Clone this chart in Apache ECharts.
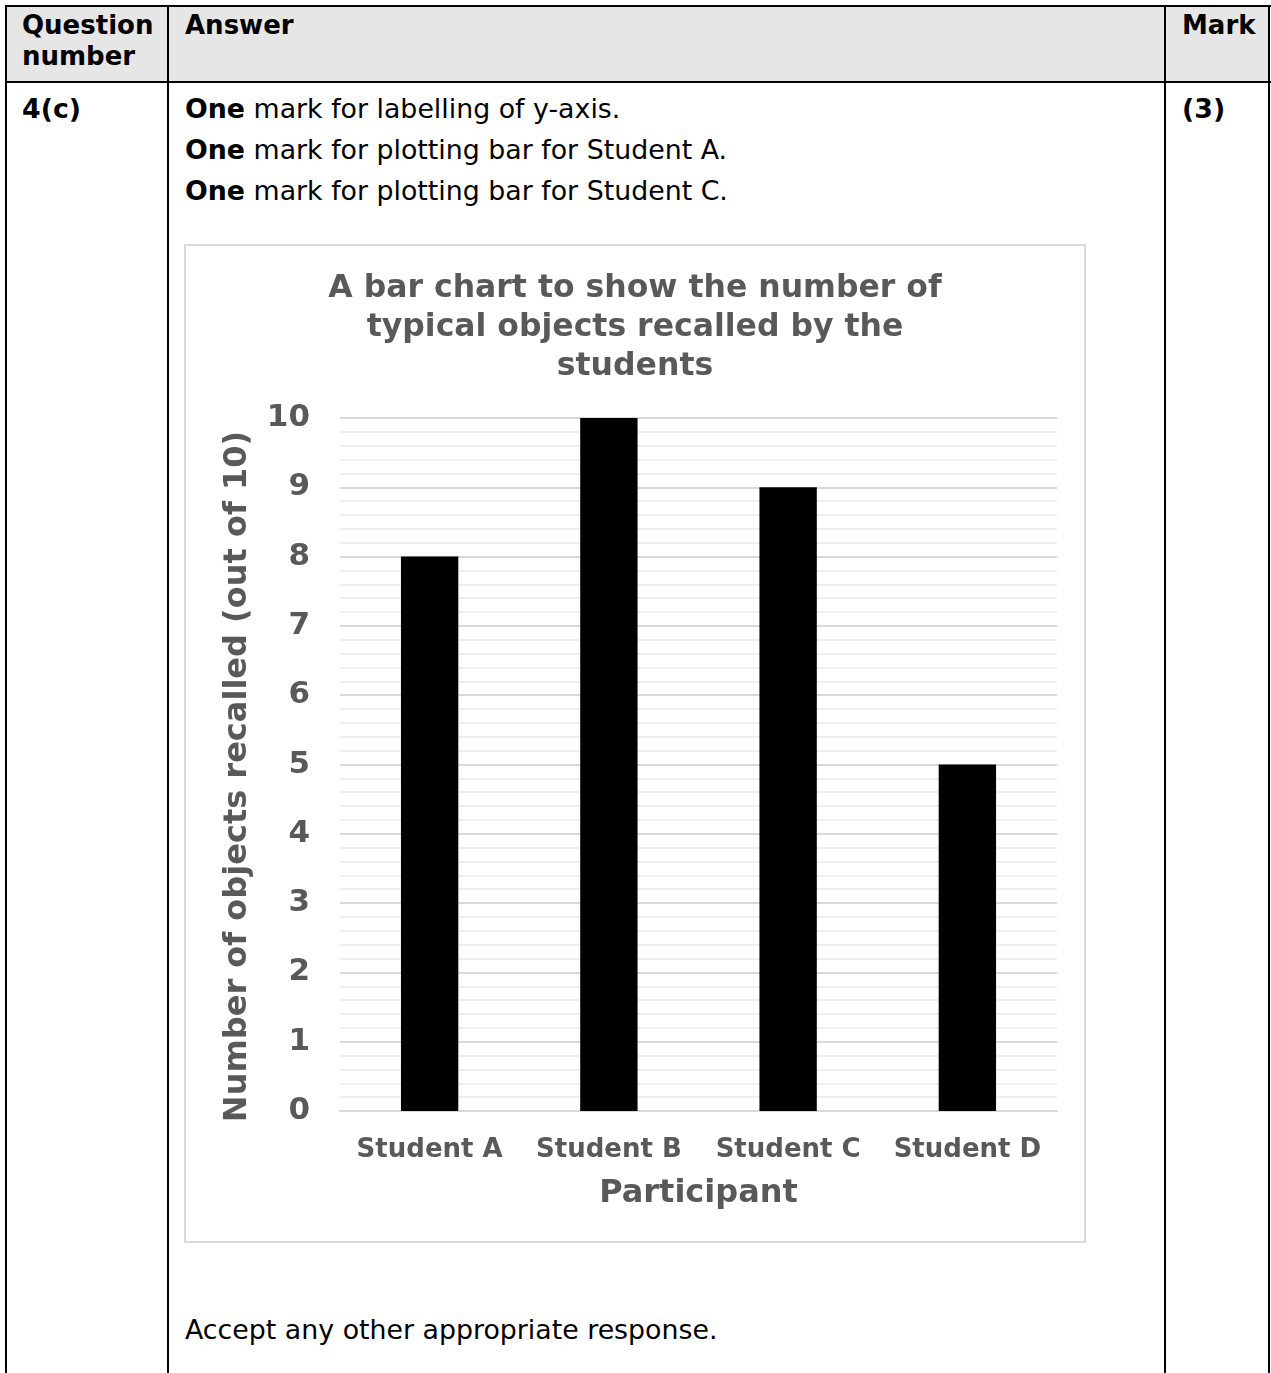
<!DOCTYPE html>
<html>
<head>
<meta charset="utf-8">
<script src="https://cdn.jsdelivr.net/npm/echarts@6/dist/echarts.min.js"></script>
<style>
  html, body { margin: 0; padding: 0; background: #fff; width: 1271px; height: 1373px; overflow: hidden; }
  body { position: relative; font-family: "DejaVu Sans", Verdana, sans-serif; color: #000; }
  .abs { position: absolute; }
  .hdr { background: #e7e6e6; }
  .vline { position: absolute; width: 2px; background: #000; }
  .hline { position: absolute; height: 2px; background: #000; }
  .htxt { position: absolute; font-weight: bold; font-size: 26px; line-height: 31px; white-space: nowrap; }
  .btxt { position: absolute; font-size: 26.8px; line-height: 41px; white-space: nowrap; }
  #frame { position: absolute; left: 184px; top: 244px; width: 902px; height: 999px; box-sizing: border-box; border: 2px solid #d9d9d9; }
  #chart { position: absolute; left: 184px; top: 244px; width: 902px; height: 999px; }
</style>
</head>
<body>
<div class="abs hdr" style="left:5px;top:5px;width:1265px;height:77px;"></div>
<div class="hline" style="left:5px;top:5px;width:1266px;"></div>
<div class="hline" style="left:5px;top:81px;width:1266px;"></div>
<div class="vline" style="left:5px;top:5px;height:1368px;"></div>
<div class="vline" style="left:167px;top:5px;height:1368px;"></div>
<div class="vline" style="left:1164px;top:5px;height:1368px;"></div>
<div class="vline" style="left:1268px;top:5px;height:1368px;"></div>

<div class="htxt" style="left:22px;top:10px;">Question<br>number</div>
<div class="htxt" style="left:185px;top:10px;">Answer</div>
<div class="htxt" style="left:1182px;top:10px;">Mark</div>

<div class="btxt" style="left:22px;top:88px;font-weight:bold;">4(c)</div>
<div class="btxt" style="left:1182px;top:88px;font-weight:bold;">(3)</div>
<div class="btxt" style="left:185px;top:88px;">
  <b>One</b> mark for labelling of y-axis.<br>
  <b>One</b> mark for plotting bar for Student A.<br>
  <b>One</b> mark for plotting bar for Student C.
</div>
<div class="btxt" style="left:185px;top:1309px;">Accept any other appropriate response.</div>

<div id="frame"></div>
<div id="chart"></div>

<script>
const titleText = "A bar chart to show the number of\ntypical objects recalled by the\nstudents";
const categories = ["Student A", "Student B", "Student C", "Student D"];
const recalled = [8, 10, 9, 5];
const yAxisName = "Number of objects recalled (out of 10)";
const xAxisName = "Participant";

const grey = "#595959";
const font = "DejaVu Sans";
const chart = echarts.init(document.getElementById("chart"), null, { renderer: "canvas" });
chart.setOption({
  animation: false,
  backgroundColor: "transparent",
  graphic: [{
    type: "text",
    x: 451,
    y: 25,
    silent: true,
    style: {
      text: titleText,
      align: "center",
      verticalAlign: "top",
      fontFamily: font,
      fontWeight: "bold",
      fontSize: 31.5,
      lineHeight: 39,
      fill: grey
    }
  }],
  grid: { left: 156, right: 29, top: 174, bottom: 132, containLabel: false },
  xAxis: {
    type: "category",
    data: categories,
    name: xAxisName,
    nameLocation: "middle",
    nameGap: 67,
    nameTextStyle: { fontFamily: font, fontWeight: "bold", fontSize: 32, color: grey },
    axisLine: { show: true, lineStyle: { color: "#d9d9d9", width: 2 } },
    axisTick: { show: false },
    axisLabel: { interval: 0, margin: 26, fontFamily: font, fontWeight: "bold", fontSize: 26, color: grey },
    splitLine: { show: false }
  },
  yAxis: {
    type: "value",
    min: 0,
    max: 10,
    interval: 1,
    name: yAxisName,
    nameLocation: "middle",
    nameRotate: 90,
    nameGap: 86,
    nameTextStyle: { fontFamily: font, fontWeight: "bold", fontSize: 32, color: grey, padding: [0, 24, 0, 0] },
    axisLine: { show: false },
    axisTick: { show: false },
    axisLabel: { margin: 30, padding: [6, 0, 0, 0], fontFamily: font, fontWeight: "bold", fontSize: 31, color: grey },
    splitLine: { show: true, lineStyle: { color: "#d9d9d9", width: 2 } },
    minorTick: { show: false, splitNumber: 5 },
    minorSplitLine: { show: true, lineStyle: { color: "#efefef", width: 2 } }
  },
  series: [{
    type: "bar",
    data: recalled,
    barWidth: "32%",
    itemStyle: { color: "#000000" }
  }]
});
</script>
</body>
</html>
